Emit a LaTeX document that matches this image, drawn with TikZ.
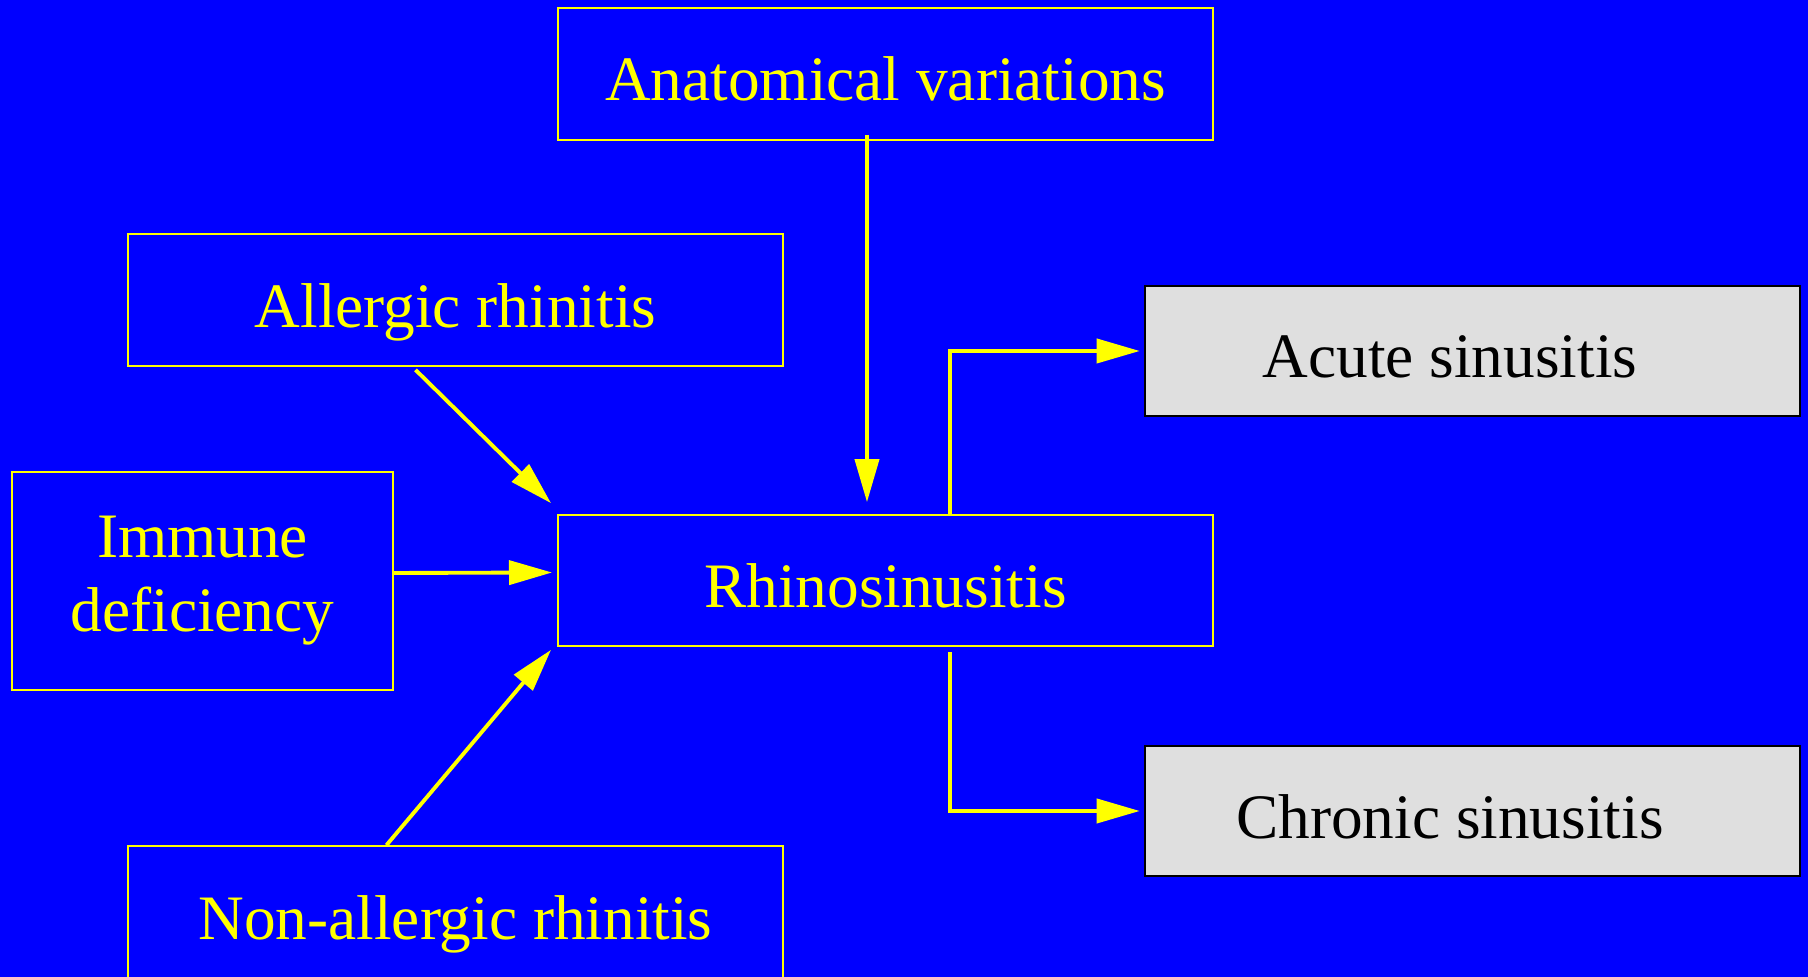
\documentclass[tikz,border=0pt]{standalone}
\usepackage{fontspec}
\setmainfont{Liberation Serif}
\usepackage{tikz}
\usetikzlibrary{arrows.meta}
\definecolor{bgblue}{HTML}{0000FF}
\definecolor{yel}{HTML}{FFFF00}
\definecolor{boxgray}{HTML}{DFDFDF}
\tikzset{
  ar/.style={-{Triangle[length=4.3mm,width=2.4mm]},line width=1.1pt,yel},
  frame/.style={draw=yel,line width=0.45pt,text=yel,align=center,minimum width=6.55cm,minimum height=1.32cm,inner sep=0pt,font=\fontsize{18}{21}\selectfont},
  bx/.style={frame,text height=6.4mm,text depth=1mm},
  outbx/.style={bx,draw=black,line width=0.6pt,fill=boxgray,text=black,minimum height=1.3cm}
}
\begin{document}
\begin{tikzpicture}[x=0.01cm,y=-0.01cm]
\fill[bgblue] (0,0) rectangle (1808,977);
\useasboundingbox (0,0) rectangle (1808,977);
\node[bx] (anat) at (885.5,74) {Anatomical variations};
\node[bx] (allerg) at (455.5,300) {Allergic rhinitis};
\node[frame,minimum width=3.81cm,minimum height=2.18cm] (immune) at (202.5,581) {Immune\\deficiency};
\node[bx,minimum height=1.31cm] (rhino) at (885.5,580.5) {Rhinosinusitis};
\node[bx] (nonall) at (455.5,912) {Non-allergic rhinitis};
\node[outbx] (acute) at (1472.5,351) {Acute sinusitis\hspace*{0.45cm}};
\node[outbx] (chronic) at (1472.5,811) {Chronic sinusitis\hspace*{0.45cm}};
% causes
\draw[ar,shorten >=1.2mm] ([xshift=-1.85mm,yshift=0.6mm]anat.south) -- ([xshift=-1.85mm]rhino.north);
\draw[ar] ([xshift=-4mm,yshift=-0.3mm]allerg.south) -- ([shift={(-0.6mm,1.1mm)}]rhino.north west);
\draw[ar,shorten >=0.5mm] ([yshift=0.8mm]immune.east) -- ([yshift=0.8mm]rhino.west);
\draw[ar] ([xshift=-6.9mm]nonall.north) -- ([shift={(-0.6mm,-0.3mm)}]rhino.south west);
% outcomes
\draw[ar,shorten >=0.4mm] ([xshift=6.45mm]rhino.north) |- (acute.west);
\draw[ar,shorten <=0.5mm,shorten >=0.4mm] ([xshift=6.45mm]rhino.south) |- (chronic.west);
\end{tikzpicture}
\end{document}
